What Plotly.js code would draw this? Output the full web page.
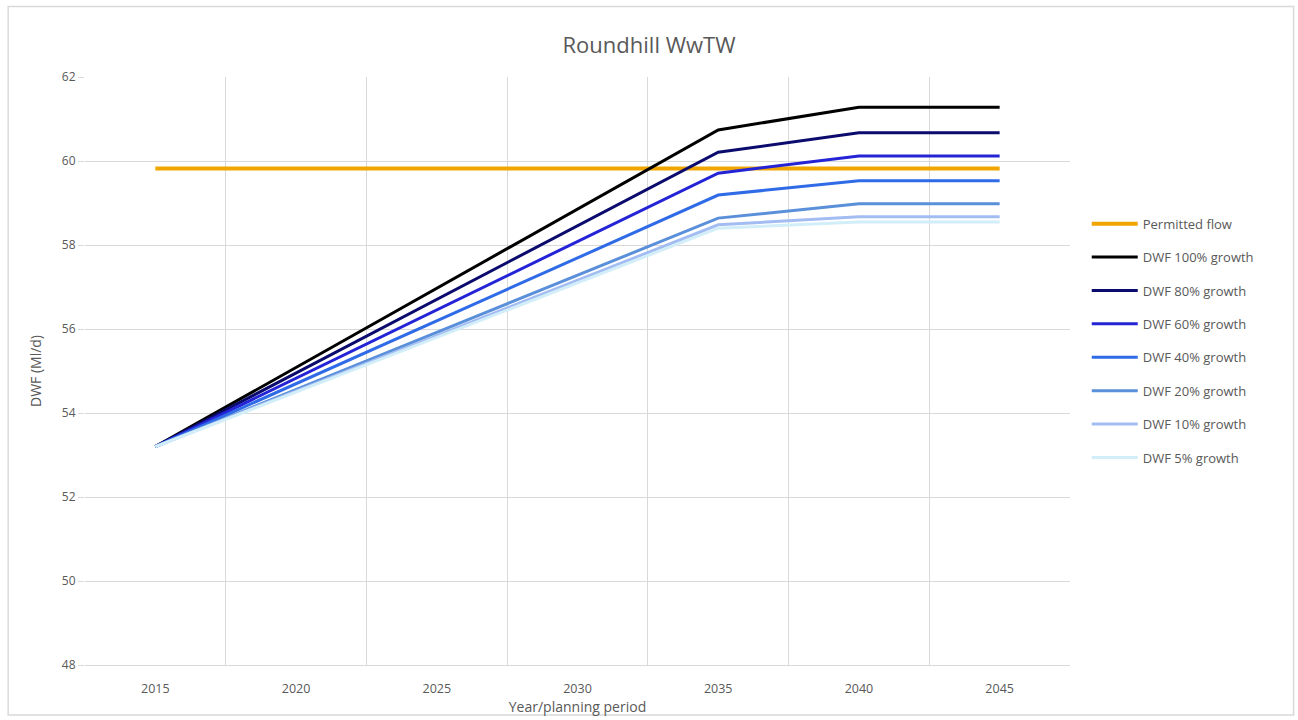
<!DOCTYPE html>
<html>
<head>
<meta charset="utf-8">
<script src="https://cdn.plot.ly/plotly-3.0.1.min.js"></script>
<style>html,body{margin:0;padding:0;background:#fff;}#chart{width:1298px;height:720px;}</style>
</head>
<body>
<div id="chart"></div>
<script>
const years = ["2015","2020","2025","2030","2035","2040","2045"];
const permittedFlow = [59.82,59.82,59.82,59.82,59.82,59.82,59.82];
const dwf100 = [53.2,55.09,56.97,58.86,60.74,61.28,61.28];
const dwf80  = [53.2,54.95,56.71,58.46,60.21,60.67,60.67];
const dwf60  = [53.2,54.83,56.46,58.08,59.71,60.12,60.12];
const dwf40  = [53.2,54.70,56.20,57.69,59.19,59.53,59.53];
const dwf20  = [53.2,54.56,55.92,57.28,58.64,58.98,58.98];
const dwf10  = [53.2,54.52,55.84,57.16,58.48,58.67,58.67];
const dwf5   = [53.2,54.50,55.80,57.10,58.40,58.55,58.55];
const seriesNames = ["Permitted flow","DWF 100% growth","DWF 80% growth","DWF 60% growth","DWF 40% growth","DWF 20% growth","DWF 10% growth","DWF 5% growth"];
const seriesValues = [permittedFlow,dwf100,dwf80,dwf60,dwf40,dwf20,dwf10,dwf5];
const seriesColors = ["#F0A500","#000000","#0B0B6E","#2424D6","#2F6BE6","#5A8FD9","#A3BDF2","#D2EEF9"];

const traces = seriesValues.map((v,i)=>({
  x: years, y: v, type:'scatter', mode:'lines', name: seriesNames[i],
  legendgroup: 'g'+i,
  line:{color: seriesColors[i], width: i===0?4:3}
}));
const font = "Open Sans, Liberation Sans, sans-serif";
const layout = {
  width:1298, height:720,
  paper_bgcolor:'#fff', plot_bgcolor:'#fff',
  margin:{l:85, r:228, t:77, b:55},
  font:{family:font, color:'#595959', size:12},
  title:{text:'Roundhill WwTW', x:0.5, xanchor:'center', xref:'container', y:0.937, yanchor:'middle', font:{size:22, color:'#595959', family:font}},
  xaxis:{type:'category', range:[-0.5,6.5], tickson:'boundaries', showgrid:true, gridcolor:'#D9D9D9', gridwidth:1,
    showline:true, linecolor:'#D9D9D9', ticks:'', tickfont:{size:12.5,color:'#595959'}, ticklabelstandoff:12,
    title:{text:'Year/planning period', standoff:2, font:{size:14,color:'#595959'}}, zeroline:false, fixedrange:true},
  yaxis:{range:[48,62], dtick:2, tick0:48, showgrid:true, gridcolor:'#D9D9D9', gridwidth:1, zeroline:false,
    showline:false, ticks:'outside', ticklen:6, tickcolor:'#D9D9D9', tickfont:{size:12,color:'#595959'},
    title:{text:'DWF (Ml/d)', standoff:16, font:{size:14,color:'#595959'}}},
  legend:{x:1.017, xanchor:'left', y:0.776, yanchor:'top', traceorder:'grouped', tracegroupgap:13.5, itemwidth:46,
    font:{size:13,color:'#595959'}, bgcolor:'rgba(0,0,0,0)'},
  shapes:[{type:'rect', xref:'paper', yref:'paper', x0:-0.078, x1:1.227, y0:-0.085, y1:1.12, line:{color:'#D9D9D9', width:1.5}, fillcolor:'rgba(0,0,0,0)', layer:'below'}],
  showlegend:true
};
Plotly.newPlot('chart', traces, layout, {displayModeBar:false, staticPlot:true});
</script>
</body>
</html>
